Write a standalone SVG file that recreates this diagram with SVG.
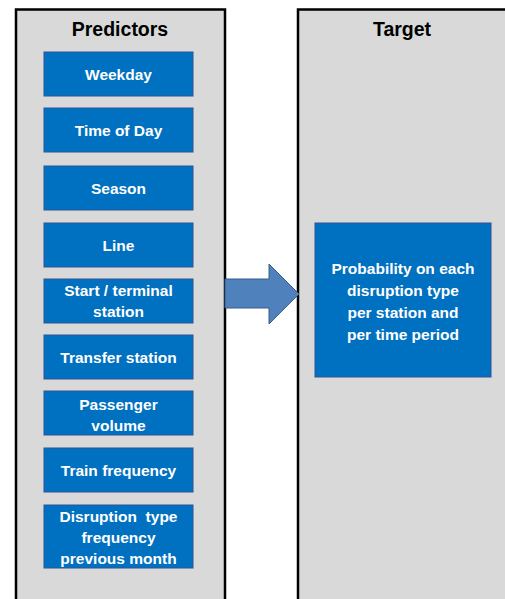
<svg xmlns="http://www.w3.org/2000/svg" width="505" height="599" viewBox="0 0 505 599">
  <style>
    .panel { fill: #d9d9d9; stroke: #000; stroke-width: 2.5; }
    .box { fill: #0070c0; stroke: #2f5597; stroke-width: 1; }
    .title { font-family: "Liberation Sans", Arial, sans-serif; font-weight: bold; font-size: 19.5px; fill: #000; text-anchor: middle; }
    .lbl { font-family: "Liberation Sans", Arial, sans-serif; font-weight: bold; font-size: 15.5px; fill: #fff; text-anchor: middle; white-space: pre; }
  </style>
  <rect width="505" height="599" fill="#fff"/>

  <g id="predictors">
    <rect class="panel" x="16" y="9.5" width="209" height="600"/>
    <text class="title" x="120" y="36">Predictors</text>
  </g>
  <g id="target">
    <rect class="panel" x="298" y="9.5" width="220" height="600"/>
    <text class="title" x="402" y="36">Target</text>
  </g>

  <g id="weekday"><rect class="box" x="44" y="52" width="149" height="44"/><text class="lbl" x="118.5" y="79.5">Weekday</text></g>
  <g id="time-of-day"><rect class="box" x="44" y="108" width="149" height="44"/><text class="lbl" x="118.5" y="135.5">Time of Day</text></g>
  <g id="season"><rect class="box" x="44" y="166" width="149" height="44"/><text class="lbl" x="118.5" y="193.5">Season</text></g>
  <g id="line"><rect class="box" x="44" y="223" width="149" height="44"/><text class="lbl" x="118.5" y="250.5">Line</text></g>
  <g id="start-terminal"><rect class="box" x="44" y="279" width="149" height="44"/><text class="lbl" x="118.5" y="296">Start / terminal</text><text class="lbl" x="118.5" y="317">station</text></g>
  <g id="transfer"><rect class="box" x="44" y="335" width="149" height="44"/><text class="lbl" x="118.5" y="362.5">Transfer station</text></g>
  <g id="passenger"><rect class="box" x="44" y="391" width="149" height="44"/><text class="lbl" x="118.5" y="409.5">Passenger</text><text class="lbl" x="118.5" y="430.5">volume</text></g>
  <g id="train-frequency"><rect class="box" x="44" y="448" width="149" height="44"/><text class="lbl" x="118.5" y="475.5">Train frequency</text></g>
  <g id="disruption-frequency"><rect class="box" x="44" y="505" width="149" height="63"/><text class="lbl" x="118.5" y="521.5">Disruption  type</text><text class="lbl" x="118.5" y="542.5">frequency</text><text class="lbl" x="118.5" y="563.5">previous month</text></g>

  <g id="probability"><rect class="box" x="315" y="223" width="176" height="154"/>
    <text class="lbl" x="403" y="273.5">Probability on each</text>
    <text class="lbl" x="403" y="295.5">disruption type</text>
    <text class="lbl" x="403" y="317.5">per station and</text>
    <text class="lbl" x="403" y="339.5">per time period</text>
  </g>

  <g id="connectors">
    <path d="M225 279 L269 279 L269 264 L299 294 L269 324 L269 308 L225 308 Z" fill="#4f81bd" stroke="#385d8a" stroke-width="1"/>
  </g>
</svg>
